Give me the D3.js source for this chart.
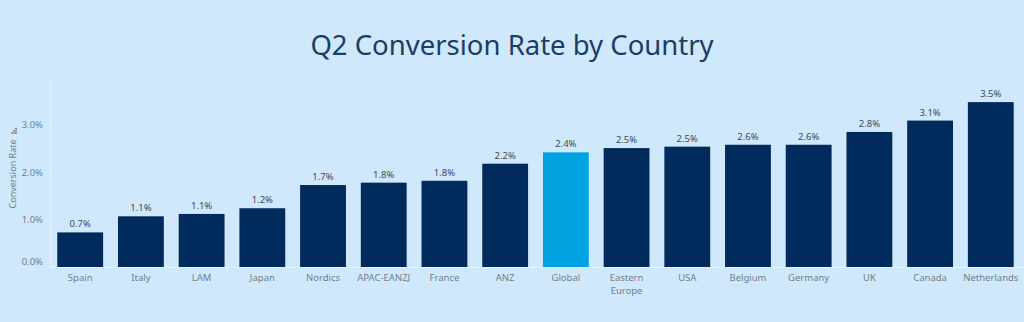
<!DOCTYPE html>
<html>
<head>
<meta charset="utf-8">
<script src="https://cdn.jsdelivr.net/npm/d3@7"></script>
<style>
  body { margin: 0; background: #d0e8fb; }
  svg { display: block; font-family: "Noto Sans", sans-serif; }
</style>
</head>
<body>
<svg id="chart"></svg>
<script>
// data
var countries = ["Spain", "Italy", "LAM", "Japan", "Nordics", "APAC-EANZJ", "France", "ANZ",
                 "Global", "Eastern Europe", "USA", "Belgium", "Germany", "UK", "Canada", "Netherlands"];
var rates = [0.73, 1.07, 1.12, 1.24, 1.73, 1.78, 1.82, 2.18, 2.42, 2.51, 2.54, 2.58, 2.58, 2.85, 3.09, 3.48];
var labels = ["0.7%", "1.1%", "1.1%", "1.2%", "1.7%", "1.8%", "1.8%", "2.2%",
              "2.4%", "2.5%", "2.5%", "2.6%", "2.6%", "2.8%", "3.1%", "3.5%"];
var yTicks = [0, 1, 2, 3];

var width = 1024, height = 322;
var margin = {top: 86, right: 3, bottom: 55, left: 50};

var svg = d3.select("#chart")
    .attr("width", width)
    .attr("height", height);

svg.append("rect")
    .attr("width", width)
    .attr("height", height)
    .attr("fill", "#d0e8fb");

// title
svg.append("text")
    .attr("x", 512)
    .attr("y", 55)
    .attr("text-anchor", "middle")
    .attr("font-size", 27.5)
    .attr("fill", "#1c3d66")
    .text("Q2 Conversion Rate by Country");

var x = d3.scaleBand()
    .domain(countries)
    .range([margin.left, width - margin.right])
    .paddingInner(0.245)
    .paddingOuter(0.12);

var y = d3.scaleLinear()
    .domain([0, 3.82])
    .range([height - margin.bottom, margin.top]);

// axis lines
svg.append("line")
    .attr("x1", margin.left + 1).attr("x2", margin.left + 1)
    .attr("y1", margin.top - 8).attr("y2", y(0))
    .attr("stroke", "#e6f2fd").attr("stroke-width", 1);
svg.append("line")
    .attr("x1", margin.left).attr("x2", width)
    .attr("y1", y(0) + 0.5).attr("y2", y(0) + 0.5)
    .attr("stroke", "#e6f2fd").attr("stroke-width", 1);

// y axis
var yAxis = svg.append("g")
    .attr("transform", "translate(" + (margin.left - 4) + ",0)")
    .call(d3.axisLeft(y).tickValues(yTicks).tickSize(0).tickFormat(function(d) { return d3.format(".1f")(d) + "%"; }));
yAxis.select(".domain").remove();
yAxis.selectAll("text")
    .attr("font-size", 9.5)
    .attr("fill", "#717f8f")
    .attr("font-family", "Noto Sans, sans-serif")
    .attr("dy", function(d) { return d === 0 ? "-0.25em" : "0.32em"; });

// y axis title
svg.append("text")
    .attr("transform", "translate(16," + 174 + ") rotate(-90)")
    .attr("text-anchor", "middle")
    .attr("font-size", 9)
    .attr("fill", "#717f8f")
    .text("Conversion Rate");

// small sort icon above the axis title
var icon = svg.append("g").attr("transform", "translate(16,128) rotate(-90)");
[2, 4, 6].forEach(function(h, i) {
  icon.append("rect")
      .attr("x", -i * 2.2 - 1.3).attr("y", -h + 1)
      .attr("width", 1.3).attr("height", h)
      .attr("fill", i === 2 ? "#d2694a" : "#717f8f");
});

// bars
svg.selectAll("rect.bar")
    .data(countries)
    .enter().append("rect")
    .attr("class", "bar")
    .attr("x", function(d) { return x(d); })
    .attr("width", x.bandwidth())
    .attr("y", function(d, i) { return y(rates[i]); })
    .attr("height", function(d, i) { return y(0) - y(rates[i]); })
    .attr("fill", function(d) { return d === "Global" ? "#00a3e0" : "#002b5c"; });

// value labels
svg.selectAll("text.val")
    .data(countries)
    .enter().append("text")
    .attr("class", "val")
    .attr("x", function(d) { return x(d) + x.bandwidth() / 2; })
    .attr("y", function(d, i) { return y(rates[i]) - 5; })
    .attr("text-anchor", "middle")
    .attr("font-size", 9.5)
    .attr("fill", "#3c4a5c")
    .text(function(d, i) { return labels[i]; });

// x labels
var xl = svg.selectAll("text.cat")
    .data(countries)
    .enter().append("text")
    .attr("class", "cat")
    .attr("x", function(d) { return x(d) + x.bandwidth() / 2; })
    .attr("y", y(0) + 14)
    .attr("text-anchor", "middle")
    .attr("font-size", 9.5)
    .attr("fill", "#717f8f");
xl.each(function(d) {
  var parts = d === "Eastern Europe" ? ["Eastern", "Europe"] : [d];
  var t = d3.select(this);
  parts.forEach(function(p, j) {
    t.append("tspan")
        .attr("x", t.attr("x"))
        .attr("dy", j === 0 ? 0 : 12.5)
        .text(p);
  });
});
</script>
</body>
</html>
